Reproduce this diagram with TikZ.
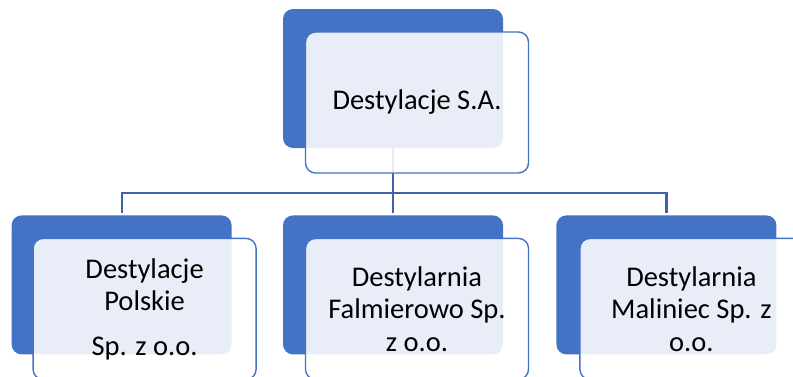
\documentclass[tikz,border=0pt]{standalone}
\usepackage{fontspec}
\setmainfont{Carlito}
\usetikzlibrary{positioning}
\definecolor{accent}{HTML}{4472C4}
\definecolor{linkblue}{HTML}{3F63A8}

\begin{document}
\begin{tikzpicture}[
    x=1pt, y=-1pt,
    every node/.style={font=\fontsize{28.5}{32.5}\selectfont},
    back/.style={rectangle, rounded corners=10pt, fill=accent, minimum width=220pt, minimum height=139pt, inner sep=0pt},
    card/.style={rectangle, rounded corners=10pt, draw=accent, line width=1.4pt, fill=white, fill opacity=0.88, text opacity=1, minimum width=223pt, minimum height=141pt, align=center, inner sep=0pt},
    link/.style={line width=2.2pt, linkblue}
  ]
    \useasboundingbox (0,0) rectangle (793,376);
    \clip (0,0) rectangle (793,376);
    % Back boxes
    \node[back] (top) at (393,78.5) {};
    \node[back, below=67pt of top] (kidB) {};
    \node[back, left=51pt of kidB] (kidA) {};
    \node[back, right=53pt of kidB] (kidC) {};
    % Connectors
    \draw[link] (top.south) -- ++(0,-45pt) -| ([yshift=2pt]kidA.north);
    \draw[link] (top.south) -- ([yshift=2pt]kidB.north);
    \draw[link] (top.south) -- ++(0,-45pt) -| ([yshift=2pt]kidC.north);
    % Cards
    \node[card] (topCard) at ([xshift=24pt,yshift=-24pt]top.center) {Destylacje S.A.};
    \node[card] (cardA) at ([xshift=23pt,yshift=-24pt]kidA.center) {Destylacje\\Polskie\\[12pt]Sp. z o.o.};
    \node[card] (cardB) at ([xshift=24pt,yshift=-24pt]kidB.center) {Destylarnia\\Falmierowo Sp.\\z o.o.};
    \node[card] (cardC) at ([xshift=25pt,yshift=-24pt]kidC.center) {Destylarnia\\Maliniec Sp. z\\o.o.};
  \end{tikzpicture}
\end{document}
